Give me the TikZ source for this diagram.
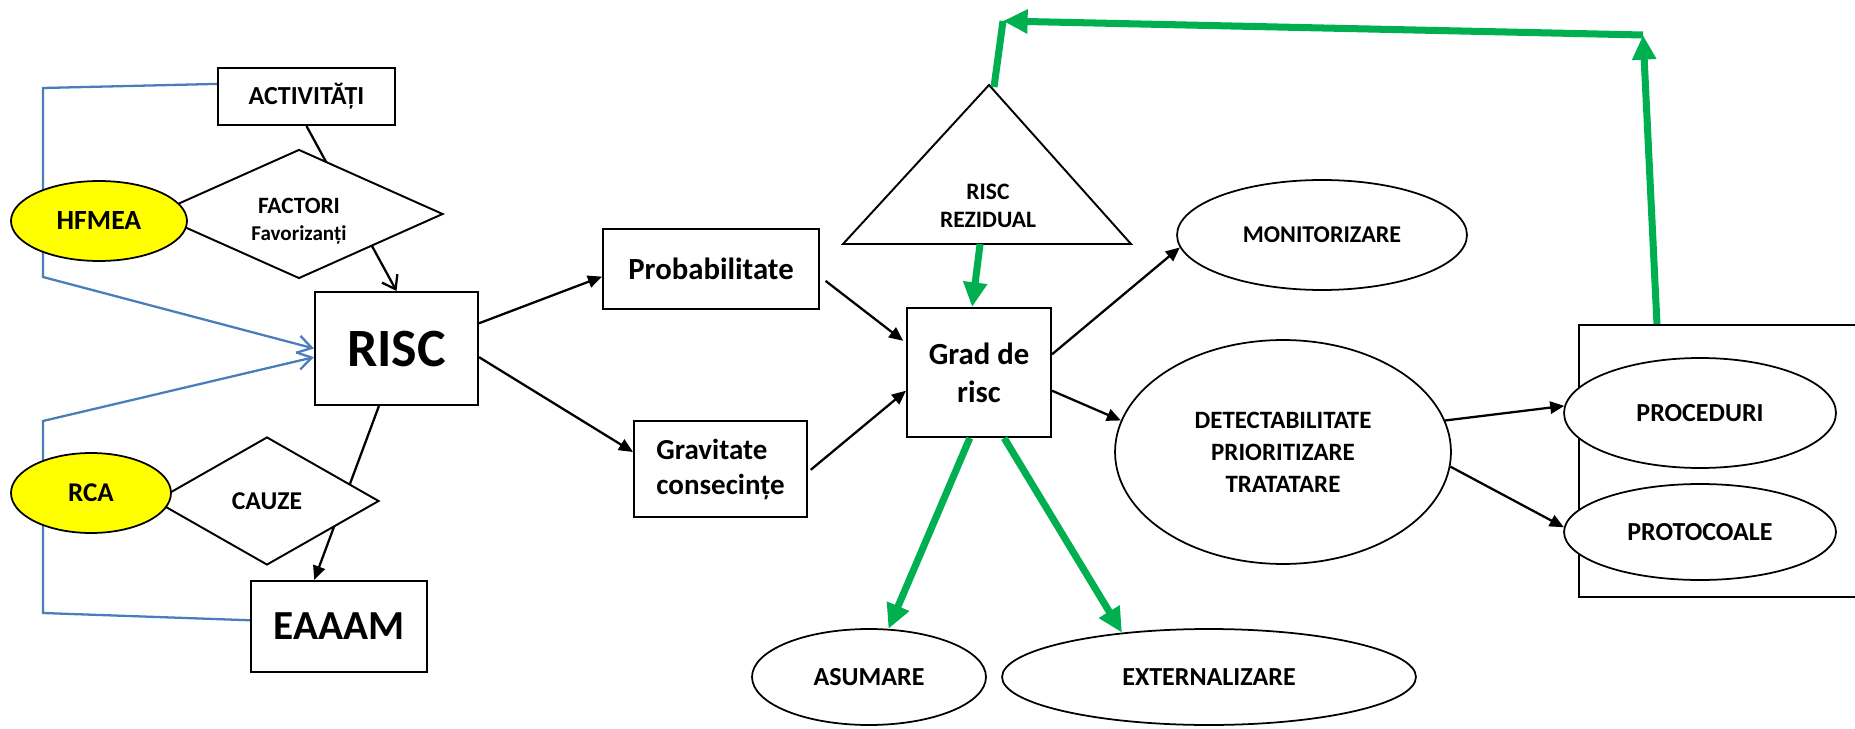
\documentclass[tikz,border=0pt]{standalone}
\usepackage{fontspec}
\setmainfont{Carlito}
\usepackage{tikz}
\usetikzlibrary{arrows.meta,positioning,calc,backgrounds,shapes.geometric}
\definecolor{cSteel}{HTML}{4A7EBB}
\definecolor{cGreen}{HTML}{00B050}
\definecolor{cYellow}{HTML}{FFFF00}
\tikzset{
  rbox/.style={draw,fill=white,line width=1.2pt,inner sep=1pt,align=center},
  oval/.style={draw,ellipse,fill=#1,line width=1pt,inner sep=0pt,align=center},
  oval/.default=white,
  dbox/.style={draw,diamond,fill=white,line width=1.1pt,inner sep=0pt,aspect=2,align=center},
  arr/.style={-{Triangle[length=8pt,width=7pt]},line width=1.3pt},
  oarr/.style={-{Straight Barb[length=7pt,width=10pt]},line width=1.3pt},
  barr/.style={-{Straight Barb[length=8pt,width=10pt]},line width=1.3pt,color=cSteel},
  garr/.style={-{Triangle[length=14pt,width=13pt]},line width=4pt,color=cGreen},
  gline/.style={line width=4pt,color=cGreen},
  fcap/.style={font=\bfseries\fontsize{#1}{#1}\selectfont},
}

\begin{document}
\begin{tikzpicture}[x=0.02cm,y=-0.02cm]
  \useasboundingbox (0,0) rectangle (1855,729);
  \clip (0,0) rectangle (1855,729);
  % left block
  \node[rbox,minimum width=3.54cm,minimum height=1.14cm,fcap=14.8pt] (act) at (306.5,96.5) {ACTIVITĂȚI};
  \node[dbox,minimum width=5.76cm,minimum height=2.58cm,font=\bfseries\fontsize{13.3pt}{15.4pt}\selectfont] (fact) at (299,214) {\rule{0pt}{16.5pt}FACTORI\\\fontsize{12pt}{15.4pt}\selectfont Favorizanți};
  \node[oval=cYellow,minimum width=3.52cm,minimum height=1.6cm,fcap=15.8pt] (hfmea) at (99,221) {HFMEA};
  \node[rbox,minimum width=3.26cm,minimum height=2.26cm,fcap=30.7pt] (risc) at (396.5,348.5) {RISC};
  \node[dbox,minimum width=4.48cm,minimum height=2.56cm,fcap=14.6pt] (cauze) at (267,501) {CAUZE};
  \node[oval=cYellow,minimum width=3.2cm,minimum height=1.6cm,fcap=15.4pt] (rca) at (91,493) {RCA};
  \node[rbox,minimum width=3.52cm,minimum height=1.82cm,fcap=23.5pt] (eaaam) at (339,626.5) {EAAAM};
  \coordinate (hfTop) at (43,88);
  \coordinate (hfBot) at (43,277);
  \coordinate (rcTop) at (43,421);
  \coordinate (rcBot) at (43,613);
  \begin{scope}[on background layer]
    \draw[barr] (act.172) -- (hfTop) -- (hfBot) -- (risc.west);
    \draw[barr] (eaaam.176) -- (rcBot) -- (rcTop) -- (risc.186);
    \draw[oarr] (act.south) -- (risc.north);
    \draw[arr] (risc.-107) -- (eaaam.118);
  \end{scope}

  % middle block
  \node[rbox,minimum width=4.32cm,minimum height=1.6cm,fcap=17.5pt] (prob) at (711,269) {Probabilitate};
  \node[rbox,minimum width=3.46cm,minimum height=1.92cm,align=left,font=\bfseries\fontsize{16.5pt}{19.9pt}\selectfont] (grav) at (720.5,469) {Gravitate\\consecințe};
  \node[rbox,minimum width=2.88cm,minimum height=2.58cm,font=\bfseries\fontsize{17.5pt}{21.6pt}\selectfont] (grad) at (979,372.5) {Grad de\\risc};
  \coordinate (rezTop) at (989,85);
  \coordinate (rezL) at (843,244);
  \coordinate (rezR) at (1131,244);
  \draw[line width=1.1pt,fill=white] (rezL) -- (rezTop) -- (rezR) -- cycle;
  \node[align=center,font=\bfseries\fontsize{13.4pt}{15.9pt}\selectfont] (rez) at (988,206) {RISC\\REZIDUAL};
  \node[oval,minimum width=4.68cm,minimum height=1.92cm,fcap=14.8pt] (asum) at (869,677) {ASUMARE};
  \node[oval,minimum width=8.28cm,minimum height=1.92cm,fcap=14.8pt] (ext) at (1209,677) {EXTERNALIZARE};

  % right block
  \node[oval,minimum width=5.8cm,minimum height=2.2cm,fcap=13.7pt] (monit) at (1322,235) {MONITORIZARE};
  \node[oval,minimum width=6.72cm,minimum height=4.48cm,font=\bfseries\fontsize{14.2pt}{18.2pt}\selectfont] (detect) at (1283,452) {DETECTABILITATE\\PRIORITIZARE\\TRATATARE};
  \node[draw,line width=1.2pt,minimum width=5.82cm,minimum height=5.44cm] (grp) at (1724.5,461) {};
  \node[oval,minimum width=5.44cm,minimum height=2.2cm,fcap=14.8pt] (proc) at (1700,413) {PROCEDURI};
  \node[oval,minimum width=5.44cm,minimum height=1.92cm,fcap=14.8pt] (prot) at (1700,532) {PROTOCOALE};
  \coordinate (cornerR) at (1643,35);
  \coordinate (cornerL) at (1003,21);

  \draw[arr] (risc.17) -- (prob.184);
  \draw[arr] (risc.-6) -- (grav.169);
  \draw[arr,shorten <=4pt,shorten >=2pt] (prob.-4) -- (grad.158);
  \draw[arr,shorten <=2pt] (grav.-2) -- (grad.194);
  \draw[arr] (grad.14) -- (monit.185);
  \draw[arr] (grad.-14) -- (detect.169);
  \draw[arr] (detect.11) -- (proc.177);
  \draw[arr] (detect.-5) -- (prot.178);

  \draw[garr] ($(rezL)!0.476!(rezR)$) -- (grad.96);
  \draw[garr] (grad.-98) -- (asum.68);
  \draw[garr] (grad.-69) -- (ext.153);
  \draw[garr] ($(grp.north west)+(79,0)$) -- (cornerR);
  \draw[garr] (cornerR) -- (cornerL);
  \draw[gline] ($(rezTop)+(5,2)$) -- (cornerL);
\end{tikzpicture}
\end{document}
